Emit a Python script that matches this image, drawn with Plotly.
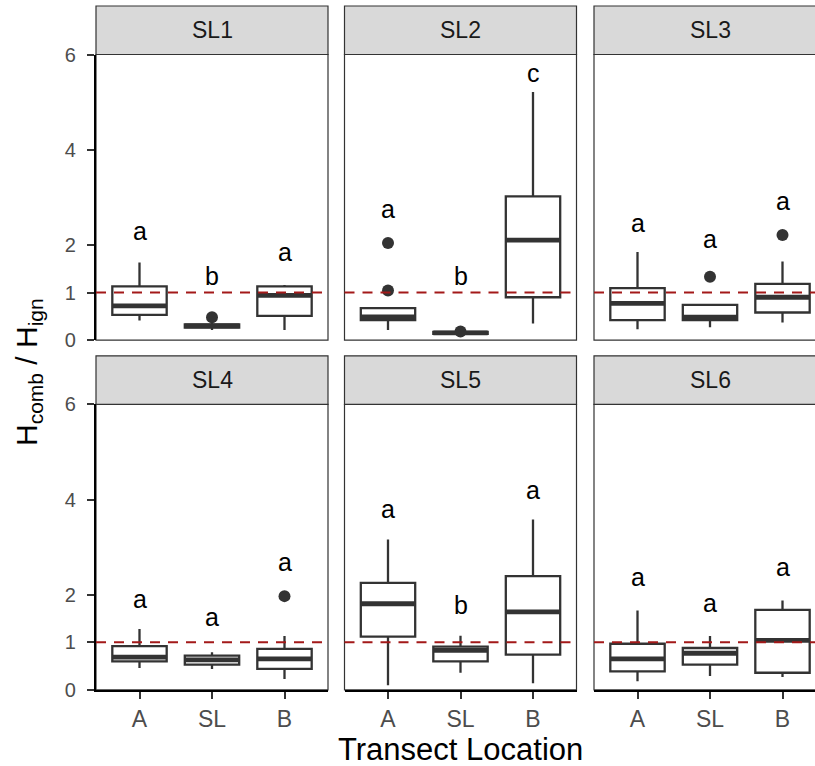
import plotly.graph_objects as go

# ---- data -----------------------------------------------------------------
sites = ["SL1", "SL2", "SL3", "SL4", "SL5", "SL6"]
locations = ["A", "SL", "B"]

# box statistics per site, ordered A, SL, B
q1 = {
    "SL1": [0.53, 0.26, 0.51],
    "SL2": [0.42, 0.13, 0.90],
    "SL3": [0.42, 0.42, 0.58],
    "SL4": [0.60, 0.53, 0.44],
    "SL5": [1.12, 0.60, 0.74],
    "SL6": [0.39, 0.53, 0.36],
}
median = {
    "SL1": [0.72, 0.30, 0.94],
    "SL2": [0.49, 0.15, 2.10],
    "SL3": [0.77, 0.48, 0.90],
    "SL4": [0.69, 0.63, 0.65],
    "SL5": [1.81, 0.83, 1.64],
    "SL6": [0.65, 0.77, 1.04],
}
q3 = {
    "SL1": [1.13, 0.33, 1.13],
    "SL2": [0.67, 0.17, 3.02],
    "SL3": [1.09, 0.74, 1.18],
    "SL4": [0.92, 0.72, 0.86],
    "SL5": [2.25, 0.91, 2.39],
    "SL6": [0.97, 0.88, 1.68],
}
whisker_lo = {
    "SL1": [0.41, 0.21, 0.21],
    "SL2": [0.21, 0.11, 0.35],
    "SL3": [0.23, 0.27, 0.37],
    "SL4": [0.46, 0.44, 0.23],
    "SL5": [0.10, 0.36, 0.14],
    "SL6": [0.18, 0.29, 0.27],
}
whisker_hi = {
    "SL1": [1.63, 0.36, 1.16],
    "SL2": [0.67, 0.17, 5.21],
    "SL3": [1.85, 0.74, 1.65],
    "SL4": [1.28, 0.79, 1.13],
    "SL5": [3.16, 1.14, 3.58],
    "SL6": [1.67, 1.13, 1.88],
}
outliers = {
    "SL1": [[], [0.48], []],
    "SL2": [[1.04, 2.04], [0.18], []],
    "SL3": [[], [1.33], [2.21]],
    "SL4": [[], [], [1.97]],
    "SL5": [[], [], []],
    "SL6": [[], [], []],
}
# significance letters and their heights
letters = {
    "SL1": ["a", "b", "a"],
    "SL2": ["a", "b", "c"],
    "SL3": ["a", "a", "a"],
    "SL4": ["a", "a", "a"],
    "SL5": ["a", "b", "a"],
    "SL6": ["a", "a", "a"],
}
letter_y = {
    "SL1": [2.29, 1.35, 1.85],
    "SL2": [2.76, 1.35, 5.61],
    "SL3": [2.46, 2.13, 2.93],
    "SL4": [1.92, 1.53, 2.69],
    "SL5": [3.81, 1.78, 4.20],
    "SL6": [2.37, 1.83, 2.58],
}
y_ticks = [0, 1, 2, 4, 6]
reference_ratio = 1

# ---- layout geometry (pixels) ---------------------------------------------
W, H = 815, 766
col_left = [96, 344.5, 594]
panel_w = 232
row_top = [54.5, 404.3]
panel_h = 285.6
strip_h = 48.5
box_width = 0.75
x_span = 3.2  # discrete axis: categories 0..2 padded by 0.6 each side

DARK = "#333333"
FONT = "Liberation Sans, Arial, Helvetica, sans-serif"

fig = go.Figure()
shapes = []
annotations = []


def px_x(v):
    return v / W


def px_y(v):
    return 1 - v / H


for k, site in enumerate(sites):
    row, col = divmod(k, 3)
    n = "" if k == 0 else str(k + 1)
    xa, ya = "x" + n, "y" + n
    left = col_left[col]
    right_full = left + panel_w
    right_vis = min(right_full, W)
    top = row_top[row]
    bottom = top + panel_h

    # boxes
    for i, loc in enumerate(locations):
        fig.add_trace(go.Box(
            x=[i], q1=[q1[site][i]], median=[median[site][i]], q3=[q3[site][i]],
            lowerfence=[whisker_lo[site][i]], upperfence=[whisker_hi[site][i]],
            width=box_width, whiskerwidth=0, boxpoints=False,
            fillcolor="white", line=dict(color=DARK, width=2.3),
            xaxis=xa, yaxis=ya, showlegend=False, hoverinfo="skip",
        ))
        # heavier median bar
        fig.add_trace(go.Scatter(
            x=[i - box_width / 2, i + box_width / 2],
            y=[median[site][i], median[site][i]],
            mode="lines", line=dict(color=DARK, width=4.8),
            xaxis=xa, yaxis=ya, showlegend=False, hoverinfo="skip",
        ))
        if outliers[site][i]:
            fig.add_trace(go.Scatter(
                x=[i] * len(outliers[site][i]), y=outliers[site][i],
                mode="markers", marker=dict(color=DARK, size=12),
                xaxis=xa, yaxis=ya, showlegend=False, hoverinfo="skip",
            ))
        annotations.append(dict(
            x=i, y=letter_y[site][i], xref=xa, yref=ya, text=letters[site][i],
            showarrow=False, font=dict(family=FONT, size=25, color="black"),
            xanchor="center", yanchor="middle",
        ))

    # axes
    x_end = -0.6 + x_span * (right_vis - left) / panel_w
    xaxis = dict(
        domain=[px_x(left), px_x(right_vis)], range=[-0.6, x_end],
        anchor=ya, showgrid=False, zeroline=False, automargin=False,
        tickvals=[0, 1, 2], ticktext=locations,
        fixedrange=True,
    )
    if row == 1:
        xaxis.update(showline=True, linecolor="black", linewidth=2.2,
                     ticks="outside", ticklen=7, tickwidth=1.5, tickcolor=DARK,
                     showticklabels=True, ticklabelstandoff=0,
                     tickfont=dict(family=FONT, size=23, color="#4D4D4D"))
    else:
        xaxis.update(showline=False, ticks="", showticklabels=False)
    yaxis = dict(
        domain=[px_y(bottom), px_y(top)], range=[0, 6],
        anchor=xa, showgrid=False, zeroline=False, automargin=False,
        tickvals=y_ticks, fixedrange=True,
    )
    if col == 0:
        yaxis.update(showline=True, linecolor="black", linewidth=2.2,
                     ticks="outside", ticklen=7, tickwidth=1.5, tickcolor=DARK,
                     showticklabels=True, ticklabelstandoff=7,
                     tickfont=dict(family=FONT, size=20, color="#4D4D4D"))
    else:
        yaxis.update(showline=False, ticks="", showticklabels=False)
    fig.update_layout({"xaxis" + n: xaxis, "yaxis" + n: yaxis})

    # panel border
    shapes.append(dict(
        type="rect", xref="paper", yref="paper", layer="below",
        x0=px_x(left), x1=px_x(right_full), y0=px_y(bottom), y1=px_y(top),
        line=dict(color=DARK, width=1.2), fillcolor="rgba(0,0,0,0)",
    ))
    # facet strip
    shapes.append(dict(
        type="rect", xref="paper", yref="paper", layer="below",
        x0=px_x(left), x1=px_x(right_full), y0=px_y(top), y1=px_y(top - strip_h),
        line=dict(color=DARK, width=1.2), fillcolor="#D9D9D9",
    ))
    annotations.append(dict(
        x=px_x((left + right_full) / 2), y=px_y(top - strip_h / 2),
        xref="paper", yref="paper", text=site, showarrow=False,
        font=dict(family=FONT, size=23, color="#1A1A1A"),
        xanchor="center", yanchor="middle",
    ))
    # reference line at ratio 1
    shapes.append(dict(
        type="line", xref=xa + " domain", yref=ya, layer="above",
        x0=0, x1=1, y0=reference_ratio, y1=reference_ratio,
        line=dict(color="#A31919", width=2, dash="10px,8px"),
    ))

# axis titles
annotations.append(dict(
    x=px_x(461), y=px_y(749), xref="paper", yref="paper",
    text="Transect Location", showarrow=False,
    font=dict(family=FONT, size=31, color="black"),
    xanchor="center", yanchor="middle",
))
annotations.append(dict(
    x=px_x(28), y=px_y(372), xref="paper", yref="paper",
    text="H<sub>comb</sub> / H<sub>ign</sub>", showarrow=False, textangle=-90,
    font=dict(family=FONT, size=30, color="black"),
    xanchor="center", yanchor="middle",
))

fig.update_layout(
    width=W, height=H, margin=dict(l=0, r=0, t=0, b=0, autoexpand=False),
    paper_bgcolor="white", plot_bgcolor="rgba(0,0,0,0)",
    shapes=shapes, annotations=annotations, showlegend=False,
)

fig.write_html("out.html")
